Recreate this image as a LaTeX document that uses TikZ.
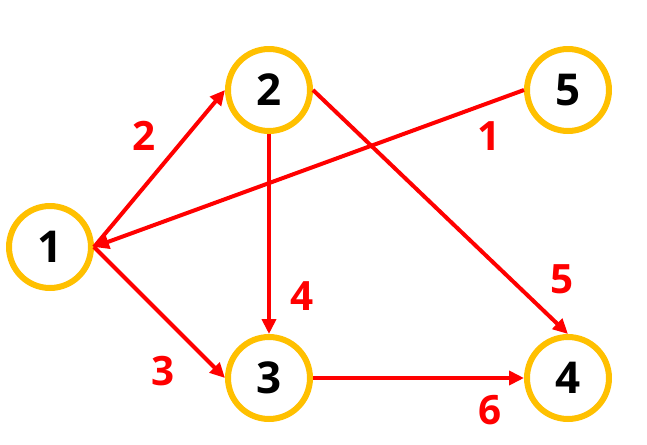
\documentclass[tikz,border=0pt]{standalone}
\usepackage{fontspec}
\setmainfont{Open Sans}[BoldFont={Open Sans Bold}]
\usepackage{tikz}
\usetikzlibrary{arrows.meta}
\definecolor{ringgold}{RGB}{255,192,0}
\definecolor{edgered}{RGB}{255,0,0}

\begin{document}
\begin{tikzpicture}[x=0.02cm, y=-0.02cm,
    vert/.style={circle, draw=ringgold, line width=0.12cm, fill=white,
                 minimum size=1.64cm, inner sep=0pt, font=\fontsize{25}{27}\selectfont\bfseries},
    edge/.style={draw=edgered, line width=0.08cm,
                 -{Triangle[length=0.3cm, width=0.28cm]}},
    wt/.style={text=edgered, font=\fontsize{23}{25}\selectfont\bfseries, inner sep=0pt}]
\useasboundingbox (0,0) rectangle (647,444);
% vertices
\node[vert] (v1) at (50,247) {1};
\node[vert] (v2) at (269,90) {2};
\node[vert] (v5) at (568,90) {5};
\node[vert] (v3) at (269,378) {3};
\node[vert] (v4) at (568,378) {4};
% directed edges
\draw[edge] (v1.east) -- (v2.west);
\draw[edge] (v1.east) -- (v3.west);
\draw[edge] (v2.south) -- (v3.north);
\draw[edge] (v2.east) -- (v4.north);
\draw[edge] (v3.east) -- (v4.west);
\draw[edge] (v5.west) -- (v1.east);
% edge weights
\node[wt] (w12) at (144,136) {2};
\node[wt] (w51) at (489,136) {1};
\node[wt] (w23) at (302,296) {4};
\node[wt] (w24) at (562,279) {5};
\node[wt] (w13) at (163,371) {3};
\node[wt] (w34) at (490,410) {6};
\end{tikzpicture}
\end{document}
